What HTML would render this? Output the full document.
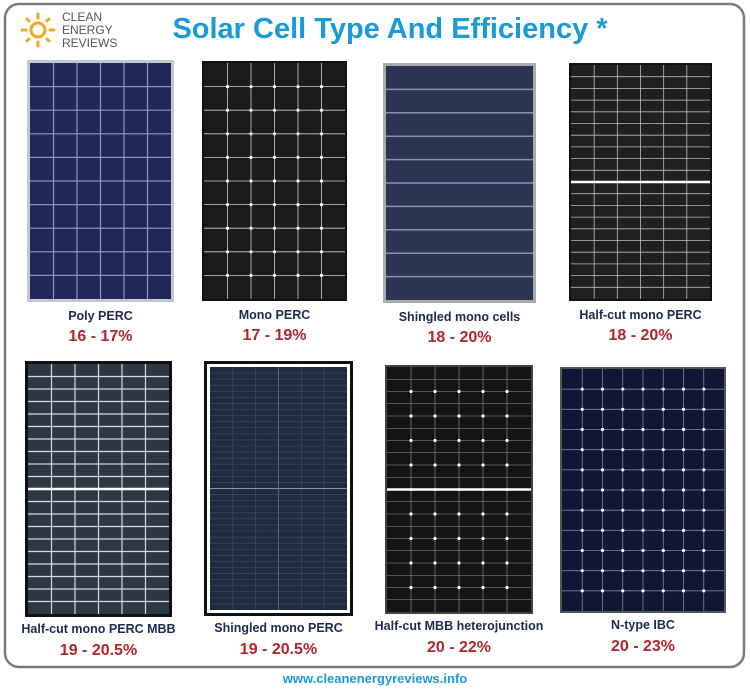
<!DOCTYPE html>
<html><head><meta charset="utf-8">
<style>
html,body{margin:0;padding:0;background:#fff;}
body{width:750px;height:687px;overflow:hidden;font-family:"Liberation Sans",sans-serif;}
</style></head>
<body>
<svg id="chart" width="750" height="687" viewBox="0 0 750 687" xmlns="http://www.w3.org/2000/svg">
  <rect x="5" y="4" width="739" height="663" rx="14" fill="#fff" stroke="#7a7a7a" stroke-width="2.5"/>
  <g>
    <circle cx="38" cy="30" r="7" fill="none" stroke="#f5a623" stroke-width="3"/>
    <g stroke="#f5a623" stroke-width="3" stroke-linecap="round">
      <line x1="38" y1="14" x2="38" y2="18"/><line x1="22" y1="30" x2="26" y2="30"/><line x1="50" y1="30" x2="54" y2="30"/>
      <line x1="27" y1="19" x2="29" y2="21"/><line x1="49" y1="19" x2="47" y2="21"/>
      <line x1="27" y1="41" x2="29" y2="39"/><line x1="49" y1="41" x2="47" y2="39"/><line x1="38" y1="42" x2="38" y2="46"/>
    </g>
    <text x="62" y="21" font-size="12" fill="#555">CLEAN</text>
    <text x="62" y="34" font-size="12" fill="#555">ENERGY</text>
    <text x="62" y="47" font-size="12" fill="#555">REVIEWS</text>
  </g>
  <text x="390" y="38" text-anchor="middle" font-size="29" font-weight="bold" fill="#1a9ad6">Solar Cell Type And Efficiency *</text>
  <g id="panels"></g>
  <text x="375" y="683" text-anchor="middle" font-size="13" font-weight="bold" fill="#1a9ad6">www.cleanenergyreviews.info</text>
</svg>
<script>
const names = ["Poly PERC","Mono PERC","Shingled  mono cells","Half-cut mono PERC","Half-cut mono PERC MBB","Shingled mono PERC","Half-cut MBB heterojunction","N-type IBC"];
const effLow = [16,17,18,18,19,19,20,20];
const effHigh = [17,19,20,20,20.5,20.5,22,23];
// panel geometry (layout, not data)
const boxes = [[27,60,147,242],[202,61,145,240],[383,63,153,240],[569,63,143,238],[25,361,147,256],[204,361,149,255],[385,365,148,249],[560,367,166,246]];
const styles = [
 {bg:"#1f2858",frame:"#c4c7cc",fw:3,cols:6,rows:10,line:"#8e97bf",lw:1.2},
 {bg:"#1b1b1d",frame:"#111",fw:2,cols:6,rows:10,line:"#cfcfcf",lw:0.8,dots:true},
 {bg:"#2b3452",frame:"#aaa",fw:3,cols:0,rows:10,line:"#8d94a8",lw:1.5},
 {bg:"#202022",frame:"#111",fw:2,cols:6,rows:20,line:"#bbb",lw:0.8,half:true},
 {bg:"#2e3744",frame:"#111",fw:3,cols:6,rows:20,line:"#d6d9de",lw:1.2,half:true},
 {bg:"#1f2b3e",frame:"#111",fw:3,inner:"#fff",cols:6,rows:40,line:"#3a475c",lw:0.8,cross:true},
 {bg:"#141414",frame:"#444",fw:2,cols:6,rows:20,line:"#999",lw:0.6,half:true,dots:true},
 {bg:"#101634",frame:"#555",fw:2,cols:8,rows:12,line:"#7a85aa",lw:0.8,dots:true}
];
const NS="http://www.w3.org/2000/svg";
const root=document.getElementById('panels');
function mk(tag,attrs,parent){const e=document.createElementNS(NS,tag);for(const k in attrs)e.setAttribute(k,attrs[k]);parent.appendChild(e);return e;}
names.forEach((nm,i)=>{
  const [x,y,w,h]=boxes[i],s=styles[i];
  const g=mk('g',{},root);
  
  
  mk('rect',{x:x,y:y,width:w,height:h,fill:s.frame},g);
  let ix=x+s.fw,iy=y+s.fw,iw=w-2*s.fw,ih=h-2*s.fw;
  if(s.inner){mk('rect',{x:ix,y:iy,width:iw,height:ih,fill:s.inner},g);ix+=3;iy+=3;iw-=6;ih-=6;}
  mk('rect',{x:ix,y:iy,width:iw,height:ih,fill:s.bg},g);
  for(let r=1;r<s.rows;r++){const yy=iy+ih*r/s.rows;mk('line',{x1:ix,y1:yy,x2:ix+iw,y2:yy,stroke:s.line,'stroke-width':s.lw},g);}
  for(let c=1;c<s.cols;c++){const xx=ix+iw*c/s.cols;mk('line',{x1:xx,y1:iy,x2:xx,y2:iy+ih,stroke:s.line,'stroke-width':s.lw},g);}
  if(s.half){mk('line',{x1:ix,y1:iy+ih/2,x2:ix+iw,y2:iy+ih/2,stroke:"#fff",'stroke-width':2.5},g);}
  if(s.cross){mk('line',{x1:ix,y1:iy+ih/2,x2:ix+iw,y2:iy+ih/2,stroke:"#8a94a6",'stroke-width':1},g);mk('line',{x1:ix+iw/2,y1:iy,x2:ix+iw/2,y2:iy+ih,stroke:"#5a6578",'stroke-width':1},g);}
  if(s.dots){const dr=s.rows>12?2:s.rows;for(let r=1;r<s.rows;r++){if(s.rows>12&&r%2)continue;for(let c=1;c<s.cols;c++){mk('circle',{cx:ix+iw*c/s.cols,cy:iy+ih*r/s.rows,r:1.6,fill:"#fff"},g);}}}
  const cx=x+w/2, ty=y+h;
  const t=mk('text',{x:cx,y:ty+(i<4?18:16),'text-anchor':'middle','font-size':12.5,'font-weight':'bold',fill:'#1f2a4f','xml:space':'preserve'},g);
  t.textContent=nm;
  
  
  const p=mk('text',{x:cx,y:ty+(i<4?39:38),'text-anchor':'middle','font-size':16,'font-weight':'bold',fill:'#b0262c'},g);
  p.textContent=effLow[i]+' - '+effHigh[i]+'%';
  
  
});
</script>
</body></html>
